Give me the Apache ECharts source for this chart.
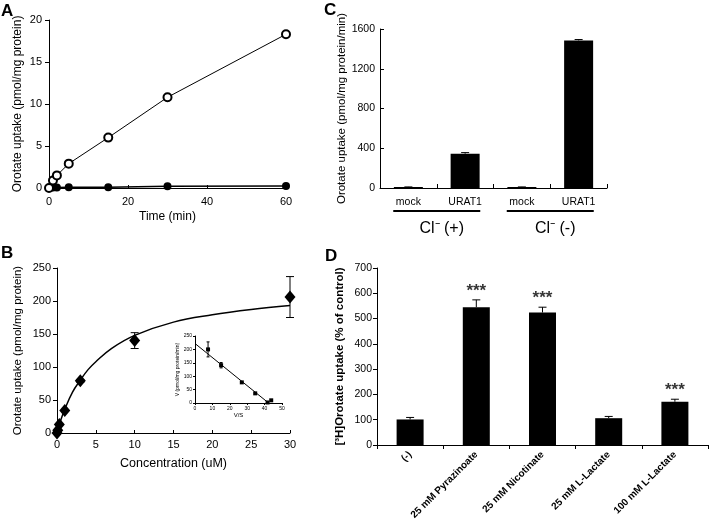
<!DOCTYPE html>
<html><head><meta charset="utf-8">
<script src="https://cdn.jsdelivr.net/npm/echarts@6/dist/echarts.min.js"></script>
<style>html,body{margin:0;padding:0;background:#fff}#c{width:710px;height:521px}</style>
</head><body><div id="c"></div>
<script>
// ---------- Panel A ----------
const aXTicks = [0, 20, 40, 60];
const aYTicks = [0, 5, 10, 15, 20];
const aTimeOpen = [0, 1, 2, 5, 15, 30, 60];
const aOpen = [0, 0.9, 1.5, 2.9, 6.0, 10.8, 18.3];
const aOpenErr = [0, 0, 0, 0, 0.1, 0.4, 0.4];
const aTimeFilled = [0, 1, 2, 5, 15, 30, 60];
const aFilled = [0, 0.05, 0.05, 0.08, 0.08, 0.22, 0.25];

// ---------- Panel B ----------
const bXTicks = [0, 5, 10, 15, 20, 25, 30];
const bYTicks = [0, 50, 100, 150, 200, 250];
const bConc = [0, 0.1, 0.3, 1, 3, 10, 30];
const bUptake = [0, 4, 13, 34, 79, 140, 206];
const bErr = [0, 0, 0, 0, 2, 12, 31];
const bFitConc = [0, 0.5, 1, 2, 3, 4, 5, 7, 10, 15, 20, 25, 30];
const bFitUptake = [0, 20, 36, 62, 80, 96, 108, 128, 148, 168, 179, 187, 193];

// ---------- Panel B inset ----------
const insXTicks = [0, 10, 20, 30, 40, 50];
const insYTicks = [0, 50, 100, 150, 200, 250];
const insVS = [7.5, 15, 26.9, 34.6, 41.7, 43.8];
const insV = [200, 141, 77, 36, 2, 10];
const insErr = [28, 10, 0, 0, 0, 0];
const insFitVS = [0, 42.3];
const insFitV = [222, 0];

// ---------- Panel C ----------
const cYTicks = [0, 400, 800, 1200, 1600];
const cCats = ['mock', 'URAT1', 'mock', 'URAT1'];
const cGroups = ['Cl\u207B (+)', 'Cl\u207B (-)'];
const cValues = [10, 345, 10, 1485];
const cErr = [1, 11, 1, 9];

// ---------- Panel D ----------
const dYTicks = [0, 100, 200, 300, 400, 500, 600, 700];
const dCats = ['(-)', '25 mM Pyrazinoate', '25 mM Nicotinate', '25 mM L-Lactate', '100 mM L-Lactate'];
const dValues = [101, 545, 524, 106, 171];
const dErr = [8, 29, 21, 7, 10];
const dSig = ['', '***', '***', '', '***'];

const FONT = '"Liberation Sans", Arial, Helvetica, sans-serif';

function merge(a, b) {
  const out = Object.assign({}, a);
  for (const k in b) {
    if (b[k] && typeof b[k] === 'object' && !Array.isArray(b[k]) && a[k] && typeof a[k] === 'object') out[k] = merge(a[k], b[k]);
    else out[k] = b[k];
  }
  return out;
}
const baseAxis = {
  axisLine: {show: true, onZero: false, lineStyle: {color: '#000', width: 1}},
  axisTick: {show: true, length: 4, lineStyle: {color: '#000', width: 1}},
  splitLine: {show: false},
  axisLabel: {color: '#000', fontSize: 11, fontFamily: FONT},
  nameTextStyle: {color: '#000', fontSize: 12, fontFamily: FONT},
  nameLocation: 'middle'
};
function valAxis(grid, ticks, extra) {
  return merge(merge(baseAxis, {
    type: 'value', gridIndex: grid,
    min: ticks[0], max: ticks[ticks.length - 1], interval: ticks[1] - ticks[0],
    axisLabel: {formatter: v => String(v)}
  }), extra || {});
}
function pairs(xs, ys) { return xs.map((x, i) => [x, ys[i]]); }

function errorBar(capHalf, both) {
  return function (params, api) {
    const x = api.value(0);
    const top = api.coord([x, api.value(2)]);
    const bot = api.coord([x, api.value(1)]);
    const st = {stroke: '#000', lineWidth: 1};
    const ch = [
      {type: 'line', shape: {x1: top[0], y1: top[1], x2: bot[0], y2: bot[1]}, style: st},
      {type: 'line', shape: {x1: top[0] - capHalf, y1: top[1], x2: top[0] + capHalf, y2: top[1]}, style: st}
    ];
    if (both) ch.push({type: 'line', shape: {x1: bot[0] - capHalf, y1: bot[1], x2: bot[0] + capHalf, y2: bot[1]}, style: st});
    return {type: 'group', children: ch};
  };
}

const chart = echarts.init(document.getElementById('c'), null, {renderer: 'canvas'});

const letterStyle = {fontSize: 17, fontWeight: 'bold', color: '#000', fontFamily: FONT};

const option = {
  animation: false,
  backgroundColor: '#fff',
  textStyle: {fontFamily: FONT, color: '#000'},
  title: [
    {text: 'A', left: 1, top: 3, textStyle: letterStyle, padding: 0},
    {text: 'B', left: 1, top: 245, textStyle: letterStyle, padding: 0},
    {text: 'C', left: 324, top: 2, textStyle: letterStyle, padding: 0},
    {text: 'D', left: 325, top: 248, textStyle: letterStyle, padding: 0}
  ],
  grid: [
    {left: 49, top: 20, width: 237, height: 168, outerBoundsMode: 'none'},
    {left: 57, top: 268, width: 233, height: 165, outerBoundsMode: 'none'},
    {left: 195, top: 336, width: 87, height: 67, outerBoundsMode: 'none'},
    {left: 380, top: 29, width: 227, height: 159, outerBoundsMode: 'none'},
    {left: 377, top: 268, width: 331, height: 177, outerBoundsMode: 'none'}
  ],
  xAxis: [
    valAxis(0, aXTicks, {name: 'Time (min)', nameGap: 23, axisTick: {inside: true, length: 3}, axisLabel: {margin: 8}}),
    valAxis(1, bXTicks, {name: 'Concentration (uM)', nameGap: 24, nameTextStyle: {fontSize: 12.5}, axisTick: {inside: true, length: 3}, axisLabel: {margin: 6}}),
    valAxis(2, insXTicks, {name: 'V/S', nameGap: 9, nameTextStyle: {fontSize: 6}, axisTick: {length: 2}, axisLabel: {fontSize: 5, margin: 3}}),
    merge(baseAxis, {
      type: 'category', gridIndex: 3, data: cCats.map((c, i) => String(i)),
      axisTick: {inside: true, length: 4},
      axisLabel: {fontSize: 10.5, margin: 9, formatter: (v, i) => cCats[i]}
    }),
    merge(baseAxis, {
      type: 'category', gridIndex: 3, position: 'bottom', offset: 14, data: cGroups,
      axisLine: {show: false}, axisTick: {show: false},
      axisLabel: {
        margin: 8, interval: 0,
        formatter: v => '{u|}\n{t|' + v + '}',
        rich: {
          u: {width: 87, height: 2, lineHeight: 2, backgroundColor: '#000'},
          t: {fontSize: 16, lineHeight: 34, color: '#000', fontFamily: FONT, padding: [0, 0, 0, 10]}
        }
      }
    }),
    merge(baseAxis, {
      type: 'category', gridIndex: 4, data: dCats,
      axisTick: {length: 4},
      axisLabel: {interval: 0, rotate: 45, fontSize: 10, fontWeight: 'bold', margin: 8}
    })
  ],
  yAxis: [
    valAxis(0, aYTicks, {name: 'Orotate uptake (pmol/mg protein)', nameGap: 25, axisLabel: {margin: 7}}),
    valAxis(1, bYTicks, {name: 'Orotate uptake (pmol/mg protein)', nameGap: 33, nameTextStyle: {fontSize: 11.5}, axisLabel: {margin: 6}}),
    valAxis(2, insYTicks, {name: 'V (pmol/mg protein/min)', nameGap: 10, nameTextStyle: {fontSize: 5}, axisTick: {length: 2}, axisLabel: {fontSize: 5, margin: 3}}),
    valAxis(3, cYTicks, {name: 'Orotate uptake (pmol/mg protein/min)', nameGap: 31, nameTextStyle: {fontSize: 11.5}, axisTick: {inside: true, length: 4}, axisLabel: {fontSize: 10.5, margin: 5}}),
    valAxis(4, dYTicks, {name: '[\u00B3H]Orotate uptake (% of control)', nameGap: 31, nameTextStyle: {fontSize: 11.5, fontWeight: 'bold'}, axisLabel: {fontSize: 10.5, margin: 5}})
  ],
  series: [
    // A
    {type: 'line', xAxisIndex: 0, yAxisIndex: 0, data: pairs(aTimeFilled, aFilled),
      symbol: 'circle', symbolSize: 8, itemStyle: {color: '#000'}, lineStyle: {color: '#000', width: 1.5}, z: 3},
    {type: 'line', xAxisIndex: 0, yAxisIndex: 0, data: pairs(aTimeOpen, aOpen),
      symbol: 'circle', symbolSize: 8, itemStyle: {color: '#fff', borderColor: '#000', borderWidth: 2}, lineStyle: {color: '#000', width: 1}, z: 4},
    {type: 'custom', xAxisIndex: 0, yAxisIndex: 0, renderItem: errorBar(2.5, true), encode: {x: 0, y: [1, 2]},
      data: aTimeOpen.map((t, i) => [t, aOpen[i] - aOpenErr[i], aOpen[i] + aOpenErr[i]]), z: 2},
    // B
    {type: 'line', xAxisIndex: 1, yAxisIndex: 1, data: pairs(bFitConc, bFitUptake), showSymbol: false, smooth: 0.4,
      lineStyle: {color: '#000', width: 1.5}},
    {type: 'scatter', xAxisIndex: 1, yAxisIndex: 1, data: pairs(bConc, bUptake), symbol: 'diamond', symbolSize: [11, 13],
      itemStyle: {color: '#000', opacity: 1}, z: 4},
    {type: 'custom', xAxisIndex: 1, yAxisIndex: 1, renderItem: errorBar(4, true), encode: {x: 0, y: [1, 2]},
      data: bConc.map((c, i) => [c, bUptake[i] - bErr[i], bUptake[i] + bErr[i]]).filter((d, i) => bErr[i] > 0), z: 3},
    // inset
    {type: 'line', xAxisIndex: 2, yAxisIndex: 2, data: pairs(insFitVS, insFitV), showSymbol: false,
      lineStyle: {color: '#000', width: 1}},
    {type: 'scatter', xAxisIndex: 2, yAxisIndex: 2, data: pairs(insVS, insV), symbol: 'rect', symbolSize: 4,
      itemStyle: {color: '#000', opacity: 1}},
    {type: 'custom', xAxisIndex: 2, yAxisIndex: 2, renderItem: errorBar(1.5, true), encode: {x: 0, y: [1, 2]},
      data: insVS.map((x, i) => [x, insV[i] - insErr[i], insV[i] + insErr[i]]).filter((d, i) => insErr[i] > 0)},
    // C
    {type: 'bar', xAxisIndex: 3, yAxisIndex: 3, data: cValues, barWidth: 29, itemStyle: {color: '#000'}},
    {type: 'custom', xAxisIndex: 3, yAxisIndex: 3, renderItem: errorBar(4, false), encode: {x: 0, y: [1, 2]},
      data: cValues.map((v, i) => [i, v, v + cErr[i]]), z: 3},
    // D
    {type: 'bar', xAxisIndex: 5, yAxisIndex: 4, data: dValues, barWidth: 27, itemStyle: {color: '#000'}},
    {type: 'custom', xAxisIndex: 5, yAxisIndex: 4, renderItem: errorBar(4, false), encode: {x: 0, y: [1, 2]},
      data: dValues.map((v, i) => [i, v, v + dErr[i]]), z: 3},
    {type: 'scatter', xAxisIndex: 5, yAxisIndex: 4, data: dValues.map((v, i) => [i, v + dErr[i]]),
      symbol: 'circle', symbolSize: 1, itemStyle: {color: 'rgba(0,0,0,0)'},
      label: {show: true, position: 'top', distance: 0, formatter: p => dSig[p.dataIndex], fontSize: 17, fontWeight: 'bold', color: '#000', fontFamily: FONT}}
  ]
};
chart.setOption(option);
</script>
</body></html>
